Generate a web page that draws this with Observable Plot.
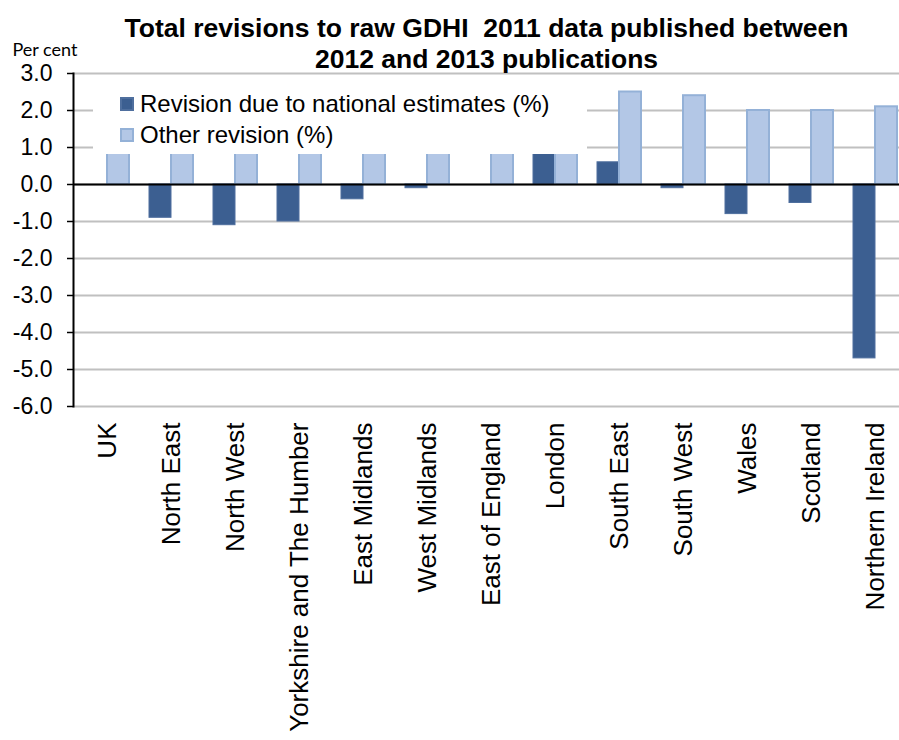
<!DOCTYPE html>
<html>
<head>
<meta charset="utf-8">
<script src="https://cdn.jsdelivr.net/npm/d3@7"></script>
<script src="https://cdn.jsdelivr.net/npm/@observablehq/plot@0.6"></script>
<style>
  html, body { margin: 0; padding: 0; background: white; }
  #wrap { position: relative; width: 899px; height: 740px; overflow: hidden; }
  #legend { position: absolute; left: 93px; top: 76px; width: 494px; height: 78px; background: white;
    font-family: "Liberation Sans", Arial, sans-serif; font-size: 24px; color: black; }
  .item { position: absolute; left: 27px; display: flex; align-items: center; white-space: nowrap; }
  .sw { width: 14px; height: 14px; margin-right: 6px; box-sizing: border-box; }
</style>
</head>
<body>
<div id="wrap"></div>
<script>
const regions = ["UK", "North East", "North West", "Yorkshire and The Humber", "East Midlands",
  "West Midlands", "East of England", "London", "South East", "South West", "Wales", "Scotland", "Northern Ireland"];
const national = [0, -0.9, -1.1, -1.0, -0.4, -0.1, 0, 1.0, 0.6, -0.1, -0.8, -0.5, -4.7];
const other = [1.9, 1.2, 1.5, 1.3, 1.6, 1.4, 2.0, 2.3, 2.5, 2.4, 2.0, 2.0, 2.1];
const yTicks = [3, 2, 1, 0, -1, -2, -3, -4, -5, -6];
const seriesNames = ["Revision due to national estimates (%)", "Other revision (%)"];
const titleText = "Total revisions to raw GDHI  2011 data published between\n2012 and 2013 publications";
const yLabel = "Per cent";

const darkFill = "#3c5f91", lightFill = "#b3c7e6", lightStroke = "#94b1d7";

const rows = regions.map((r, i) => ({region: r, national: national[i], other: other[i]}));

const chart = Plot.plot({
  width: 899,
  height: 740,
  marginTop: 73,
  marginBottom: 334,
  marginLeft: 73,
  marginRight: 0,
  style: {fontFamily: "'Liberation Sans', Arial, sans-serif", background: "white", color: "black"},
  x: {domain: regions, range: [73, 909], paddingInner: 0.658, paddingOuter: 0.329, align: 0.5},
  y: {domain: [-6, 3]},
  marks: [
    Plot.gridY(yTicks, {stroke: "#c0c0c0", strokeOpacity: 1, strokeWidth: 2}),
    Plot.barY(rows, {x: "region", y: "national", fill: darkFill, stroke: "#4f6f9e", strokeWidth: 1, dx: -11}),
    Plot.barY(rows, {x: "region", y: "other", fill: lightFill, stroke: lightStroke, strokeWidth: 2, dx: 11}),
    Plot.ruleY([0], {stroke: "black", strokeWidth: 2}),
    Plot.axisY({ticks: yTicks, tickFormat: d => d.toFixed(1), tickSize: 6, tickPadding: 15,
      fontSize: 23, stroke: "black", strokeWidth: 1.5, label: null}),
    Plot.frame({anchor: "left", stroke: "black", strokeWidth: 2}),
    Plot.axisX({tickRotate: -90, tickSize: 0, tickPadding: 16, fontSize: 26, label: null}),
    Plot.text([titleText], {text: d => d, frameAnchor: "top", lineAnchor: "middle", dy: -31, fontWeight: "bold",
      fontSize: 26.5, lineHeight: 1.19, fill: "black"}),
    Plot.text([yLabel], {text: d => d, frameAnchor: "top-left", lineAnchor: "middle", dx: -61, dy: -23, textAnchor: "start",
      fontFamily: "Lato, 'Open Sans', sans-serif", fontSize: 18, fill: "black"})
  ]
});

const wrap = document.getElementById("wrap");
wrap.appendChild(chart);

const legend = document.createElement("div");
legend.id = "legend";
const cols = [[darkFill, "#4f6f9e"], [lightFill, lightStroke]];
seriesNames.forEach((name, i) => {
  const it = document.createElement("div");
  it.className = "item";
  it.style.top = (i === 0 ? 14 : 45) + "px";
  const sw = document.createElement("span");
  sw.className = "sw";
  sw.style.background = cols[i][0];
  sw.style.border = "2px solid " + cols[i][1];
  const tx = document.createElement("span");
  tx.textContent = name;
  it.appendChild(sw);
  it.appendChild(tx);
  legend.appendChild(it);
});
wrap.appendChild(legend);
</script>
</body>
</html>
